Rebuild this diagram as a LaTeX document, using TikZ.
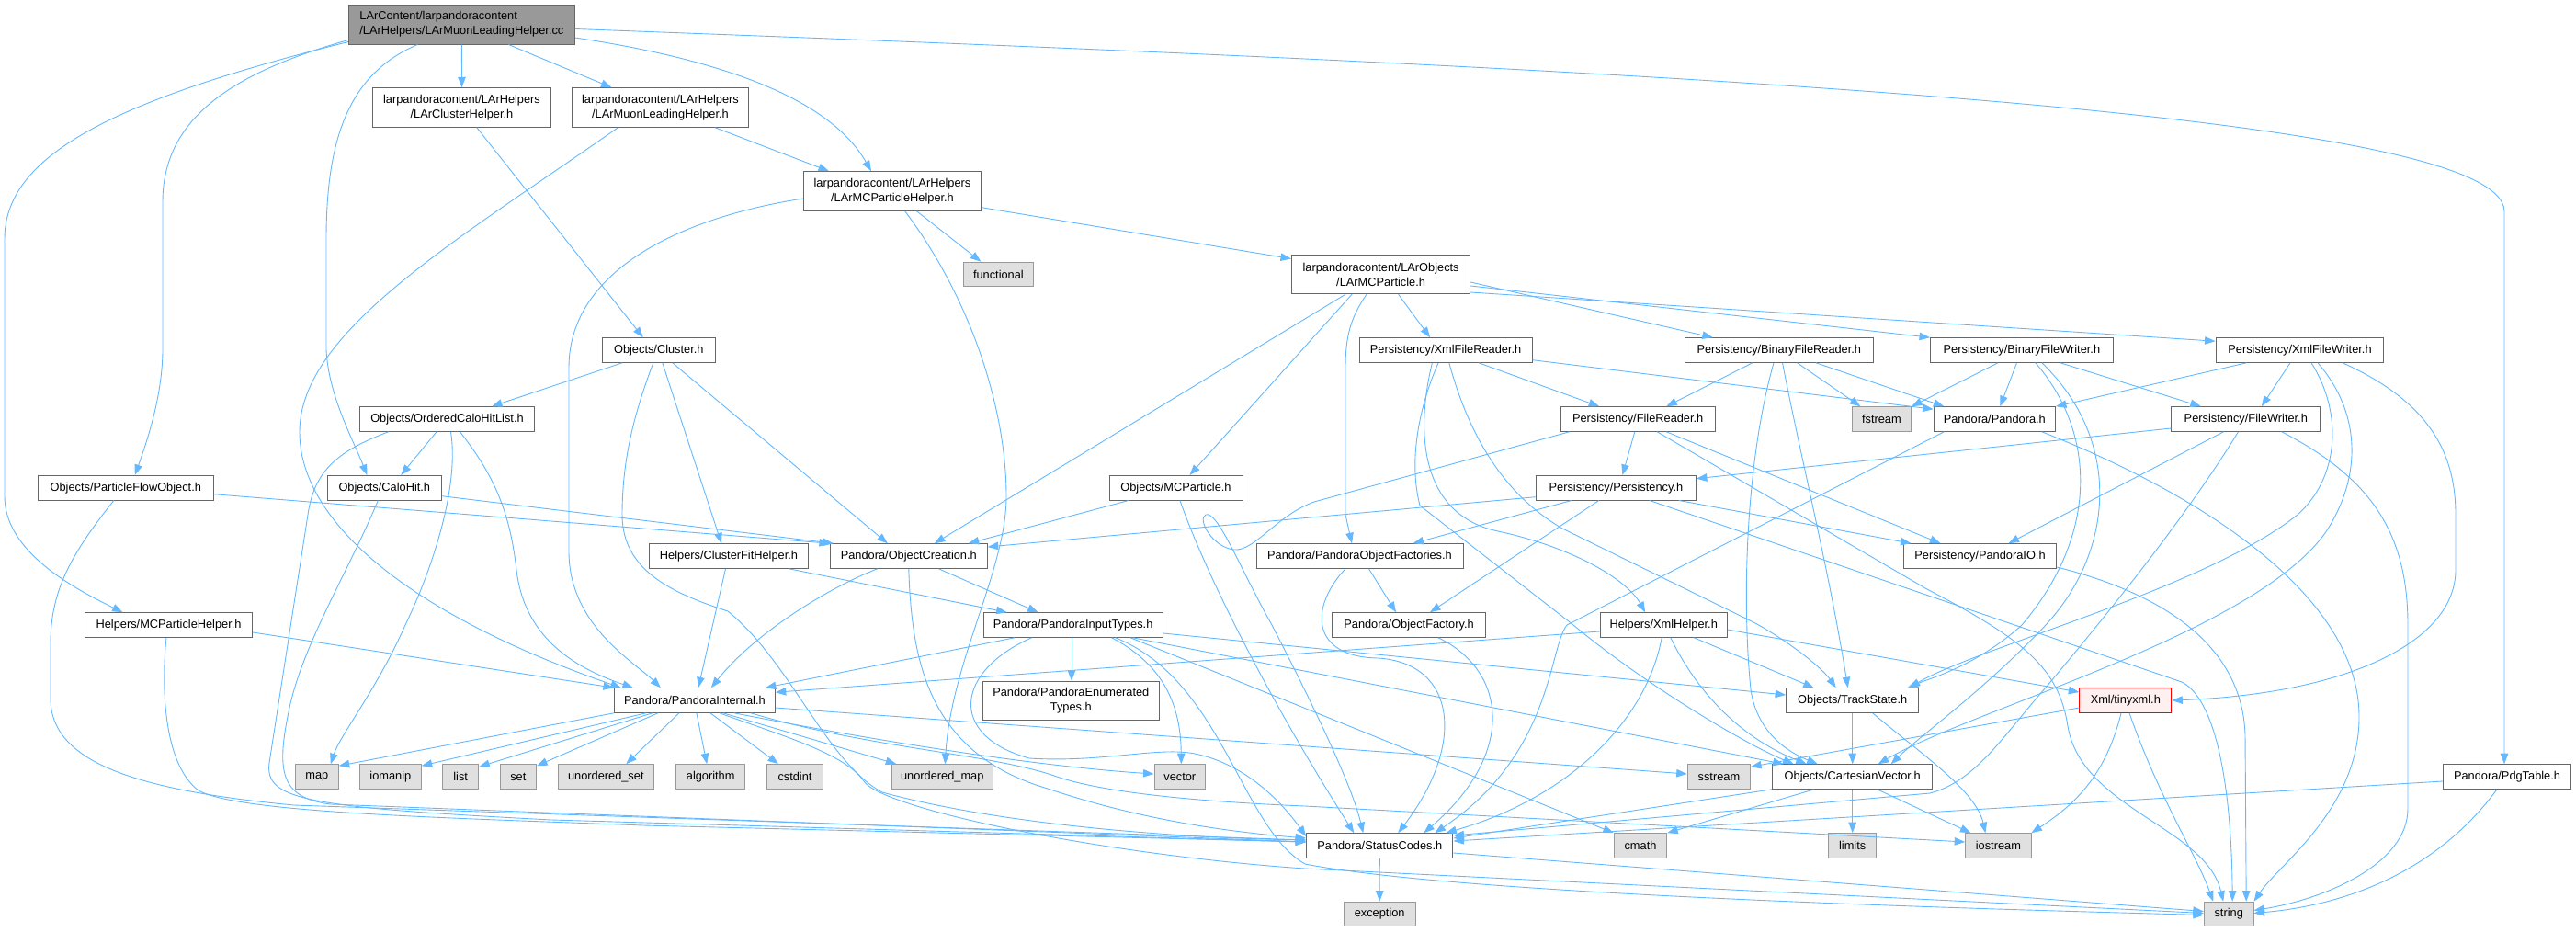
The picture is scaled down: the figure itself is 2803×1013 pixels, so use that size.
\documentclass[tikz,border=0pt]{standalone}
\usepackage{fontspec}
\setmainfont{Liberation Sans}
\usetikzlibrary{arrows.meta}
\definecolor{edgec}{HTML}{63B8FF}
\definecolor{bord}{HTML}{666666}
\definecolor{sysb}{HTML}{999999}
\definecolor{sysf}{HTML}{E0E0E0}
\definecolor{rootf}{HTML}{999999}
\definecolor{redf}{HTML}{FFF0F0}
\definecolor{redb}{HTML}{FF0000}
\newcommand{\nodefont}{\fontsize{12.8}{16}\selectfont}
\tikzset{
 nbase/.style={rectangle, line width=1pt, inner sep=0pt, minimum height=26.6pt, font=\nodefont, align=center},
 hnode/.style={nbase, draw=bord, fill=white},
 snode/.style={nbase, draw=sysb, fill=sysf},
 rnode/.style={nbase, draw=bord, fill=rootf, minimum height=43pt, align=left},
 xnode/.style={nbase, draw=redb, fill=redf},
 tall/.style={minimum height=42.5pt},
 dep/.style={draw=edgec, line width=0.9pt, -{Triangle[length=11.5pt,width=8.5pt]}},
}
\begin{document}
\begin{tikzpicture}[x=1pt,y=-1pt]
\useasboundingbox (0,0) rectangle (2803,1013);
% ---------------- nodes ----------------
\node[rnode, minimum width=246pt] (root) at (502.4,26.5) {LArContent/larpandoracontent\\/LArHelpers/LArMuonLeadingHelper.cc};
\node[hnode, tall, minimum width=193.3pt] (lch) at (502.5,117) {larpandoracontent/LArHelpers\\/LArClusterHelper.h};
\node[hnode, tall, minimum width=192.7pt] (lmlh) at (718.5,117) {larpandoracontent/LArHelpers\\/LArMuonLeadingHelper.h};
\node[hnode, tall, minimum width=193pt] (lmcph) at (971,208) {larpandoracontent/LArHelpers\\/LArMCParticleHelper.h};
\node[snode, minimum width=76.7pt] (functional) at (1086.4,298.5) {functional};
\node[hnode, tall, minimum width=194.2pt] (lmcp) at (1502.6,298.5) {larpandoracontent/LArObjects\\/LArMCParticle.h};
\node[hnode, minimum width=122.4pt] (cluster) at (716.8,381) {Objects/Cluster.h};
\node[hnode, minimum width=188.2pt] (xfr) at (1573.1,381) {Persistency/XmlFileReader.h};
\node[hnode, minimum width=204.8pt] (bfr) at (1935.8,381) {Persistency/BinaryFileReader.h};
\node[hnode, minimum width=198.7pt] (bfw) at (2199.9,381) {Persistency/BinaryFileWriter.h};
\node[hnode, minimum width=182.9pt] (xfw) at (2502.5,381) {Persistency/XmlFileWriter.h};
\node[hnode, minimum width=190.5pt] (ochl) at (486.5,456) {Objects/OrderedCaloHitList.h};
\node[hnode, minimum width=167.6pt] (fr) at (1782.2,456) {Persistency/FileReader.h};
\node[snode, minimum width=64.3pt] (fstream) at (2047.4,456) {fstream};
\node[hnode, minimum width=132.3pt] (ph) at (2170.3,456) {Pandora/Pandora.h};
\node[hnode, minimum width=161.8pt] (fw) at (2443.8,456) {Persistency/FileWriter.h};
\node[hnode, minimum width=191pt] (pfo) at (136.8,530.7) {Objects/ParticleFlowObject.h};
\node[hnode, minimum width=124pt] (calohit) at (418.3,530.7) {Objects/CaloHit.h};
\node[hnode, minimum width=145pt] (mcp) at (1279.5,530.7) {Objects/MCParticle.h};
\node[hnode, minimum width=174pt] (pers) at (1758.4,530.7) {Persistency/Persistency.h};
\node[hnode, minimum width=173pt] (cfh) at (793,605) {Helpers/ClusterFitHelper.h};
\node[hnode, minimum width=170.8pt] (oc) at (988.8,605) {Pandora/ObjectCreation.h};
\node[hnode, minimum width=225pt] (pof) at (1479.5,605) {Pandora/PandoraObjectFactories.h};
\node[hnode, minimum width=166.5pt] (pio) at (2154.5,605) {Persistency/PandoraIO.h};
\node[hnode, minimum width=181.9pt] (hmcph) at (183.6,680) {Helpers/MCParticleHelper.h};
\node[hnode, minimum width=195.2pt] (pit) at (1167.6,680) {Pandora/PandoraInputTypes.h};
\node[hnode, minimum width=166.7pt] (of) at (1533,680) {Pandora/ObjectFactory.h};
\node[hnode, minimum width=138.2pt] (xh) at (1810.2,680) {Helpers/XmlHelper.h};
\node[hnode, minimum width=174.8pt] (pi) at (755.9,762) {Pandora/PandoraInternal.h};
\node[hnode, tall, minimum width=191.4pt] (pet) at (1165.3,762.5) {Pandora/PandoraEnumerated\\Types.h};
\node[hnode, minimum width=144.2pt] (ts) at (2015.7,762) {Objects/TrackState.h};
\node[xnode, minimum width=100pt] (tinyxml) at (2312.8,762) {Xml/tinyxml.h};
\node[snode, minimum width=46.8pt] (map) at (344.8,845) {map};
\node[snode, minimum width=66.6pt] (iomanip) at (424.9,845) {iomanip};
\node[snode, minimum width=39.1pt] (list) at (501.2,845) {list};
\node[snode, minimum width=39.5pt] (set) at (563.8,845) {set};
\node[snode, minimum width=103.8pt] (uset) at (659.3,845) {unordered\_set};
\node[snode, minimum width=74.9pt] (algorithm) at (773.2,845) {algorithm};
\node[snode, minimum width=61.1pt] (cstdint) at (865,845) {cstdint};
\node[snode, minimum width=110.6pt] (umap) at (1025.3,845) {unordered\_map};
\node[snode, minimum width=55.6pt] (vector) at (1283.8,845) {vector};
\node[snode, minimum width=68.4pt] (sstream) at (1870.4,845) {sstream};
\node[hnode, minimum width=174.5pt] (cv) at (2015.7,845) {Objects/CartesianVector.h};
\node[hnode, minimum width=139.2pt] (pdg) at (2728,845) {Pandora/PdgTable.h};
\node[hnode, minimum width=159.3pt] (sc) at (1501.3,920) {Pandora/StatusCodes.h};
\node[snode, minimum width=57.4pt] (cmath) at (1785,920) {cmath};
\node[snode, minimum width=52.4pt] (limits) at (2015.7,920) {limits};
\node[snode, minimum width=71.4pt] (iostream) at (2174.4,920) {iostream};
\node[snode, minimum width=77.6pt] (exception) at (1501.2,994.5) {exception};
\node[snode, minimum width=53.7pt] (string) at (2425.2,994.5) {string};
% ---------------- edges ----------------
% root
\draw[dep] (root.south) -- (lch.north);
\draw[dep] ([xshift=51pt]root.south) -- ([xshift=-53pt]lmlh.north);
\draw[dep] ([yshift=-14.5pt]root.east) .. controls (820,70) and (910,120) .. ([xshift=-23pt]lmcph.north);
\draw[dep] ([yshift=3pt]root.south west) .. controls (120,110) and (5,170) .. (5,260) -- (5,540) .. controls (5,600) and (80,640) .. ([xshift=-50pt]hmcph.north);
\draw[dep] ([yshift=5pt]root.south west) .. controls (250,80) and (177,130) .. (177,220) -- (177,380) .. controls (177,430) and (160,480) .. ([xshift=10pt]pfo.north);
\draw[dep] ([xshift=-48pt]root.south) .. controls (380,80) and (355,150) .. (355,260) -- (355,380) .. controls (357,430) and (385,480) .. ([xshift=-19pt]calohit.north);
\draw[dep] ([yshift=-5pt]root.east) .. controls (1800,75) and (2725,120) .. (2725,230) -- ([xshift=-3pt]pdg.north);
% LAr helpers
\draw[dep] ([xshift=16.3pt]lch.south) -- ([xshift=-17pt]cluster.north);
\draw[dep] ([xshift=59.5pt]lmlh.south) -- ([xshift=-69pt]lmcph.north);
\draw[dep] ([xshift=-46pt]lmlh.south) .. controls (500,260) and (326,360) .. (326,470) .. controls (326,570) and (450,670) .. ([xshift=-80pt]pi.north);
\draw[dep] ([yshift=-17.7pt]lmcph.east) -- ([yshift=17pt]lmcp.west);
\draw[dep] ([xshift=26.5pt]lmcph.south) -- ([xshift=-19pt]functional.north);
\draw[dep] ([xshift=13.7pt]lmcph.south) .. controls (1060,330) and (1095,450) .. (1095,540) .. controls (1095,620) and (1035,720) .. ([xshift=3pt]umap.north);
\draw[dep] ([yshift=-8pt]lmcph.west) .. controls (750,235) and (619,290) .. (619,400) -- (619,600) .. controls (619,680) and (690,720) .. ([xshift=-37pt]pi.north);
% LArMCParticle
\draw[dep] ([xshift=-38.6pt]lmcp.south) -- ([xshift=28pt]oc.north);
\draw[dep] ([xshift=-31.6pt]lmcp.south) -- ([xshift=15pt]mcp.north);
\draw[dep] ([xshift=-15.6pt]lmcp.south) .. controls (1470,345) and (1464,365) .. (1464,400) -- (1464,560) -- ([xshift=-8.5pt]pof.north);
\draw[dep] ([xshift=19pt]lmcp.south) -- ([xshift=-17pt]xfr.north);
\draw[dep] ([yshift=-8.5pt]lmcp.east) -- ([xshift=-72pt]bfr.north);
\draw[dep] ([yshift=-12.5pt]lmcp.east) -- (bfw.north west);
\draw[dep] ([yshift=-19.5pt]lmcp.east) -- ([yshift=-4pt]xfw.north west);
% Cluster
\draw[dep] ([xshift=-39.8pt]cluster.south) -- ([xshift=48.5pt]ochl.north);
\draw[dep] ([xshift=-6pt]cluster.south) .. controls (690,450) and (677,500) .. (677,560) .. controls (677,620) and (730,645) .. (792,665) .. controls (860,720) and (900,830) .. (960,862) .. controls (1100,900) and (1300,912) .. ([yshift=6pt]sc.west);
\draw[dep] ([xshift=4pt]cluster.south) -- ([xshift=-8pt]cfh.north);
\draw[dep] ([xshift=15pt]cluster.south) -- ([xshift=-23pt]oc.north);
% OrderedCaloHitList
\draw[dep] ([xshift=-11.5pt]ochl.south) -- ([xshift=18pt]calohit.north);
\draw[dep] ([xshift=-64pt]ochl.south) .. controls (370,490) and (342,510) .. (335,560) -- (293,830) .. controls (288,870) and (330,878) .. (600,892) -- ([yshift=4pt]sc.west);
\draw[dep] ([xshift=4pt]ochl.south) .. controls (500,530) and (470,620) .. (441,680) .. controls (410,750) and (370,800) .. ([xshift=15pt]map.north);
\draw[dep] ([xshift=14pt]ochl.south) .. controls (540,520) and (555,560) .. (562,620) .. controls (570,690) and (620,725) .. ([xshift=-67pt]pi.north);
% CaloHit, ParticleFlowObject, MCParticleHelper
\draw[dep] ([yshift=-9pt]calohit.east) -- ([xshift=4pt]oc.north west);
\draw[dep] ([xshift=-7pt]calohit.south) .. controls (380,620) and (330,700) .. (315,770) .. controls (300,840) and (305,868) .. (360,875) -- ([yshift=4pt]sc.west);
\draw[dep] ([yshift=-7pt]pfo.east) -- (oc.north west);
\draw[dep] ([xshift=-13pt]pfo.south) .. controls (80,600) and (55,640) .. (55,700) -- (55,760) .. controls (55,830) and (150,860) .. (320,876) -- ([yshift=6pt]sc.west);
\draw[dep] ([yshift=-8pt]hmcph.east) -- (pi.north west);
\draw[dep] ([xshift=-2.6pt]hmcph.south) .. controls (176,740) and (176,830) .. (216,860) .. controls (260,885) and (500,890) .. (700,898) -- ([yshift=4pt]sc.west);
% ClusterFitHelper, ObjectCreation
\draw[dep] ([xshift=-3.5pt]cfh.south) -- ([xshift=4pt]pi.north);
\draw[dep] ([xshift=65.4pt]cfh.south) -- ([xshift=-72pt]pit.north);
\draw[dep] ([xshift=-34pt]oc.south) .. controls (900,640) and (820,690) .. ([xshift=18pt]pi.north);
\draw[dep] ([xshift=32.6pt]oc.south) -- ([xshift=-38pt]pit.north);
\draw[dep] (oc.south) .. controls (992,720) and (1010,820) .. (1140,858) .. controls (1250,895) and (1350,906) .. ([yshift=8pt]sc.west);
% MCParticle, factories
\draw[dep] ([xshift=-51.5pt]mcp.south) -- ([xshift=65pt]oc.north);
\draw[dep] ([xshift=4.5pt]mcp.south) .. controls (1310,620) and (1380,760) .. ([xshift=-28pt]sc.north);
\draw[dep] ([xshift=10pt]pof.south) -- ([xshift=-14pt]of.north);
\draw[dep] ([xshift=-15.5pt]pof.south) .. controls (1425,660) and (1425,715) .. (1500,716) .. controls (1585,722) and (1595,810) .. ([xshift=20pt]sc.north);
\draw[dep] ([xshift=32pt]of.south) .. controls (1640,730) and (1650,820) .. ([xshift=48pt]sc.north);
% PandoraInputTypes
\draw[dep] ([xshift=-63.6pt]pit.south) -- ([xshift=77pt]pi.north);
\draw[dep] ([xshift=-1.6pt]pit.south) -- ([xshift=0.7pt]pet.north);
\draw[dep] ([xshift=42pt]pit.south) .. controls (1260,720) and (1285,760) .. ([xshift=1.5pt]vector.north);
\draw[dep] ([xshift=46pt]pit.south) .. controls (1330,740) and (1350,900) .. (1420,940) .. controls (1600,975) and (2200,990) .. ([yshift=-1pt]string.west);
\draw[dep] ([xshift=62.4pt]pit.south) -- (cmath.north west);
\draw[dep] ([xshift=65pt]pit.south) -- ([xshift=-75pt]cv.north);
\draw[dep] ([yshift=-9pt]pit.east) -- ([yshift=6pt]ts.west);
\draw[dep] ([xshift=-45pt]pit.south) .. controls (1040,730) and (1030,800) .. (1120,825) .. controls (1200,830) and (1260,812) .. (1300,820) .. controls (1360,832) and (1400,880) .. ([yshift=10pt]sc.west);
% PandoraInternal
\draw[dep] (pi.south west) -- ([yshift=-2pt]map.north east);
\draw[dep] ([xshift=-53pt]pi.south) -- ([yshift=-2pt]iomanip.north east);
\draw[dep] ([xshift=-46pt]pi.south) -- ([yshift=-3pt]list.north east);
\draw[dep] ([xshift=-40pt]pi.south) -- ([yshift=-2pt]set.north east);
\draw[dep] ([xshift=-17pt]pi.south) -- ([xshift=22pt]uset.north);
\draw[dep] ([xshift=2pt]pi.south) -- ([xshift=-4pt]algorithm.north);
\draw[dep] ([xshift=17pt]pi.south) -- ([xshift=-18pt]cstdint.north);
\draw[dep] ([xshift=31pt]pi.south) -- ([xshift=-50pt]umap.north);
\draw[dep] ([xshift=43pt]pi.south) .. controls (1000,815) and (1150,835) .. ([yshift=3pt]vector.west);
\draw[dep] ([yshift=-8pt]pi.east) -- ([yshift=3pt]sstream.west);
\draw[dep] ([xshift=61pt]pi.south) .. controls (950,815) and (1080,820) .. (1150,845) .. controls (1200,862) and (1300,872) .. (1420,877) -- ([yshift=4pt]iostream.west);
\draw[dep] ([xshift=27pt]pi.south) .. controls (850,800) and (920,820) .. (940,850) .. controls (960,880) and (1200,930) .. (1420,945) -- ([yshift=1pt]string.west);
% XmlHelper
\draw[dep] ([yshift=-7pt]xh.west) -- ([yshift=-5pt]pi.north east);
\draw[dep] ([xshift=33pt]xh.south) -- ([xshift=-42pt]ts.north);
\draw[dep] ([xshift=7.6pt]xh.south) .. controls (1850,760) and (1900,805) .. ([xshift=-50pt]cv.north);
\draw[dep] ([xshift=-2pt]xh.south) .. controls (1790,790) and (1700,870) .. ([xshift=72pt]sc.north);
\draw[dep] ([yshift=-5pt]xh.east) -- ([yshift=9pt]tinyxml.west);
% TrackState, CartesianVector, StatusCodes
\draw[dep] (ts.south) -- (cv.north);
\draw[dep] ([xshift=22pt]ts.south) .. controls (2090,820) and (2150,860) .. ([xshift=-14pt]iostream.north);
\draw[dep] (cv.south west) -- ([yshift=8pt]sc.east);
\draw[dep] ([xshift=-41.7pt]cv.south) -- (cmath.north east);
\draw[dep] (cv.south) -- (limits.north);
\draw[dep] ([xshift=27pt]cv.south) -- ([xshift=-30pt]iostream.north);
\draw[dep] (sc.south) -- (exception.north);
\draw[dep] ([yshift=-8pt]sc.east) -- ([yshift=3pt]string.west);
% tinyxml, PdgTable
\draw[dep] ([yshift=-8pt]tinyxml.west) -- ([yshift=-3pt]sstream.north east);
\draw[dep] ([xshift=-4.8pt]tinyxml.south) .. controls (2290,850) and (2250,880) .. ([xshift=36pt]iostream.north);
\draw[dep] ([xshift=4.2pt]tinyxml.south) .. controls (2350,870) and (2390,930) .. ([xshift=-17pt]string.north);
\draw[dep] ([yshift=-5pt]pdg.west) -- ([yshift=5pt]sc.east);
\draw[dep] ([xshift=-11pt]pdg.south) .. controls (2650,950) and (2550,985) .. ([yshift=1pt]string.east);
% Pandora.h
\draw[dep] ([xshift=-55pt]ph.south) -- (1705,680) .. controls (1685,705) and (1690,820) .. ([xshift=60pt]sc.north);
\draw[dep] ([xshift=51.5pt]ph.south) .. controls (2400,540) and (2567,650) .. (2567,780) .. controls (2567,880) and (2480,940) .. (string.north east);
% BinaryFileReader
\draw[dep] ([xshift=-29pt]bfr.south) -- ([xshift=31pt]fr.north);
\draw[dep] ([xshift=19.8pt]bfr.south) -- ([xshift=-23pt]fstream.north);
\draw[dep] ([xshift=40.2pt]bfr.south) -- ([xshift=-55pt]ph.north);
\draw[dep] ([xshift=3.7pt]bfr.south) .. controls (1960,500) and (1990,620) .. ([xshift=-5pt]ts.north);
\draw[dep] ([xshift=-5.8pt]bfr.south) .. controls (1900,500) and (1895,650) .. (1905,750) .. controls (1912,800) and (1950,820) .. ([xshift=-38pt]cv.north);
% BinaryFileWriter
\draw[dep] ([xshift=-26pt]bfw.south) -- (fstream.north east);
\draw[dep] ([xshift=-5.4pt]bfw.south) -- ([xshift=6pt]ph.north);
\draw[dep] ([xshift=42pt]bfw.south) -- ([xshift=-49pt]fw.north);
\draw[dep] ([xshift=15pt]bfw.south) .. controls (2280,470) and (2285,580) .. (2200,680) .. controls (2150,725) and (2100,738) .. ([xshift=60pt]ts.north);
\draw[dep] ([xshift=22pt]bfw.south) .. controls (2310,480) and (2300,600) .. (2226,680) .. controls (2160,750) and (2090,800) .. ([xshift=42pt]cv.north);
% XmlFileWriter
\draw[dep] ([xshift=-58pt]xfw.south) -- (ph.north east);
\draw[dep] ([xshift=-10.5pt]xfw.south) -- ([xshift=17pt]fw.north);
\draw[dep] ([xshift=46.5pt]xfw.south) .. controls (2650,440) and (2672,500) .. (2672,560) -- (2672,620) .. controls (2672,700) and (2550,755) .. (tinyxml.east);
\draw[dep] ([xshift=12.5pt]xfw.south) .. controls (2550,450) and (2545,520) .. (2500,560) .. controls (2400,640) and (2150,705) .. ([xshift=62pt]ts.north);
\draw[dep] ([xshift=19.5pt]xfw.south) .. controls (2570,450) and (2570,520) .. (2530,580) .. controls (2450,690) and (2150,770) .. ([xshift=28pt]cv.north);
% FileWriter
\draw[dep] ([yshift=-10pt]fw.west) -- ([yshift=10pt]pers.east);
\draw[dep] ([xshift=-24.3pt]fw.south) -- ([xshift=31pt]pio.north);
\draw[dep] ([xshift=-8.3pt]fw.south) .. controls (2380,560) and (2300,660) .. (2226,748) .. controls (2180,800) and (2150,850) .. (2100,863) -- ([yshift=11pt]sc.east);
\draw[dep] ([xshift=39pt]fw.south) .. controls (2580,520) and (2620,580) .. (2620,680) -- (2620,880) .. controls (2620,940) and (2530,978) .. ([yshift=4pt]string.east);
% Persistency
\draw[dep] ([yshift=-10pt]pers.west) -- ([yshift=10pt]oc.east);
\draw[dep] ([xshift=-48.4pt]pers.south) -- ([xshift=58pt]pof.north);
\draw[dep] ([xshift=-18.6pt]pers.south) -- ([xshift=23pt]of.north);
\draw[dep] ([xshift=68.6pt]pers.south) -- ([xshift=-75pt]pio.north);
\draw[dep] ([xshift=36.5pt]pers.south) -- (2374,742) .. controls (2410,760) and (2428,850) .. ([xshift=4pt]string.north);
% PandoraIO
\draw[dep] ([yshift=-12pt]pio.east) .. controls (2350,645) and (2440,700) .. (2443,800) -- ([xshift=19pt]string.north);
% FileReader
\draw[dep] ([xshift=-3.4pt]fr.south) -- ([xshift=7pt]pers.north);
\draw[dep] ([xshift=31pt]fr.south) -- ([xshift=-43pt]pio.north);
\draw[dep] ([xshift=-74.6pt]fr.south) -- (1430,546) .. controls (1390,560) and (1365,600) .. (1343,598) .. controls (1320,596) and (1302,565) .. (1312,560) .. controls (1325,555) and (1350,620) .. (1384,680) .. controls (1420,750) and (1470,850) .. ([xshift=-18pt]sc.north);
\draw[dep] ([xshift=21pt]fr.south) -- (2095,640) .. controls (2200,695) and (2240,725) .. (2250,790) .. controls (2265,880) and (2400,900) .. ([xshift=-6pt]string.north);
% XmlFileReader
\draw[dep] ([xshift=36pt]xfr.south) -- ([xshift=-42pt]fr.north);
\draw[dep] ([yshift=-10.7pt]xfr.east) -- ([yshift=-3pt]ph.north west);
\draw[dep] ([xshift=-14.7pt]xfr.south) .. controls (1540,470) and (1545,560) .. (1630,578) .. controls (1710,595) and (1770,630) .. ([xshift=-20pt]xh.north);
\draw[dep] ([xshift=-8pt]xfr.south) .. controls (1545,440) and (1532,500) .. (1545,550) -- (1712,680) .. controls (1790,745) and (1900,810) .. ([xshift=-64pt]cv.north);
\draw[dep] ([xshift=3.7pt]xfr.south) .. controls (1600,480) and (1640,540) .. (1700,575) -- (1910,678) .. controls (1955,703) and (1985,730) .. ([xshift=-18pt]ts.north);
\end{tikzpicture}
\end{document}
